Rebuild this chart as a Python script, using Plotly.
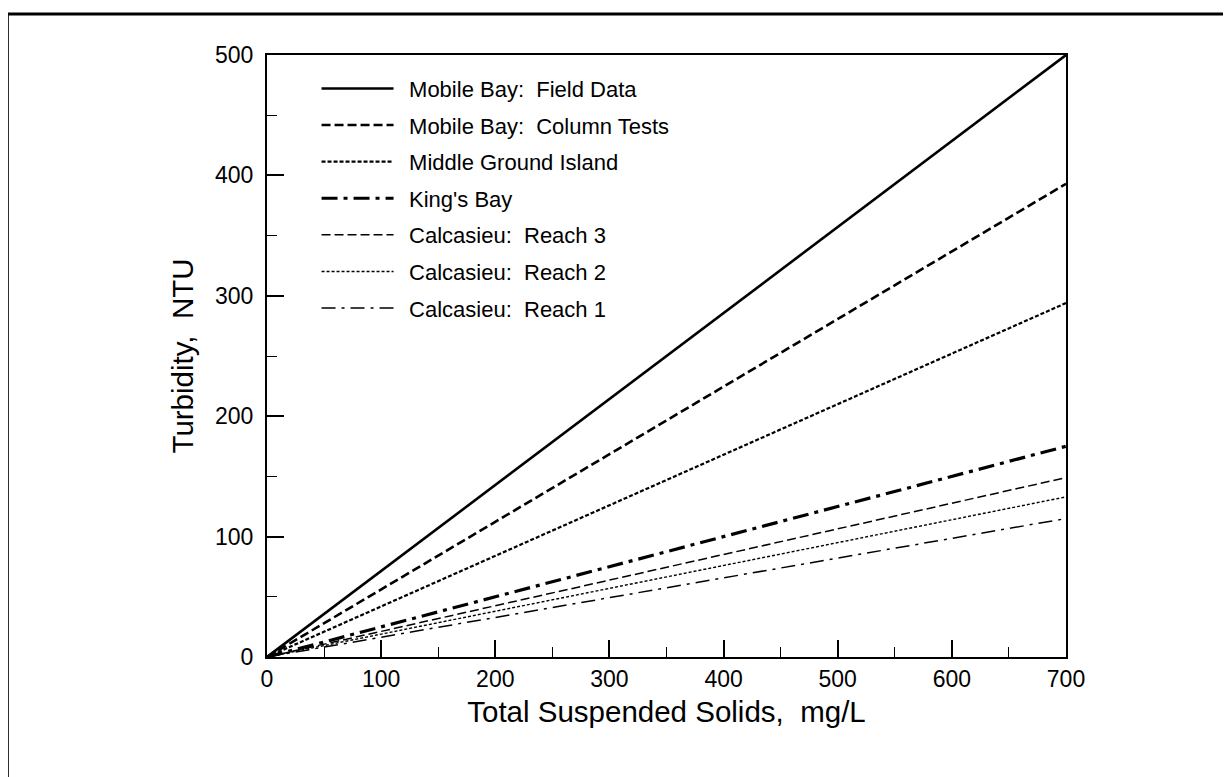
import plotly.graph_objects as go

# Data
tss = [0, 700]
series_names = [
    "Mobile Bay:&nbsp; Field Data",
    "Mobile Bay:&nbsp; Column Tests",
    "Middle Ground Island",
    "King's Bay",
    "Calcasieu:&nbsp; Reach 3",
    "Calcasieu:&nbsp; Reach 2",
    "Calcasieu:&nbsp; Reach 1",
]
field_data = [0, 500]
column_tests = [0, 393]
middle_ground = [0, 294]
kings_bay = [0, 175]
reach3 = [0, 149]
reach2 = [0, 133]
reach1 = [0, 115]
series_values = [field_data, column_tests, middle_ground, kings_bay, reach3, reach2, reach1]

x_ticks = [0, 100, 200, 300, 400, 500, 600, 700]
y_ticks = [0, 100, 200, 300, 400, 500]

styles = [
    dict(width=2.6, dash="solid"),
    dict(width=2.6, dash="9px,4px"),
    dict(width=2.2, dash="4px,2px"),
    dict(width=3.2, dash="16px,6px,4px,6px"),
    dict(width=1.5, dash="9px,4px"),
    dict(width=1.4, dash="3px,2px"),
    dict(width=1.5, dash="14px,6px,3px,6px"),
]

FONT = "Liberation Sans, Arial, sans-serif"

fig = go.Figure()
for i, (name, vals, st) in enumerate(zip(series_names, series_values, styles)):
    fig.add_trace(go.Scatter(
        x=tss, y=vals, mode="lines", name="&nbsp;&#8201;" + name,
        legendgroup=f"g{i}",
        line=dict(color="black", width=st["width"], dash=st["dash"]),
    ))

fig.update_layout(
    width=1231, height=777,
    margin=dict(l=259, r=173, t=47, b=128),
    paper_bgcolor="white", plot_bgcolor="white",
    font=dict(family=FONT, color="black"),
    showlegend=True,
    legend=dict(
        x=0.062, y=0.979, xanchor="left", yanchor="top",
        bgcolor="rgba(0,0,0,0)", borderwidth=0,
        font=dict(size=22, family=FONT, color="black"),
        itemwidth=72, traceorder="grouped", tracegroupgap=5,
    ),
    xaxis=dict(
        range=[0, 700], tickvals=x_ticks, ticks="inside", ticklen=17, tickwidth=1.5,
        tickcolor="black", showline=True, linecolor="black", linewidth=2, mirror=True,
        showgrid=False, zeroline=False,
        tickfont=dict(size=23, family=FONT),
        minor=dict(dtick=50, ticks="inside", ticklen=10, tickwidth=1.3, tickcolor="black", showgrid=False),
        title=dict(text="Total Suspended Solids,&nbsp; mg/L", font=dict(size=29.5, family=FONT), standoff=11),
    ),
    yaxis=dict(
        range=[0, 500], tickvals=y_ticks, ticks="inside", ticklen=17, tickwidth=1.5,
        tickcolor="black", showline=True, linecolor="black", linewidth=2, mirror=True,
        showgrid=False, zeroline=False, ticklabelstandoff=7,
        tickfont=dict(size=23, family=FONT),
        minor=dict(dtick=50, ticks="inside", ticklen=10, tickwidth=1.3, tickcolor="black", showgrid=False),
        title=dict(text="Turbidity,&nbsp; NTU", font=dict(size=29.5, family=FONT), standoff=13),
    ),
    shapes=[
        dict(type="line", xref="paper", yref="paper", x0=-0.325, x1=1.22, y0=1.068, y1=1.068,
             line=dict(color="black", width=3)),
        dict(type="line", xref="paper", yref="paper", x0=-0.325, x1=-0.325, y0=1.068, y1=-0.25,
             line=dict(color="black", width=3)),
    ],
)

fig.write_html("out.html")
